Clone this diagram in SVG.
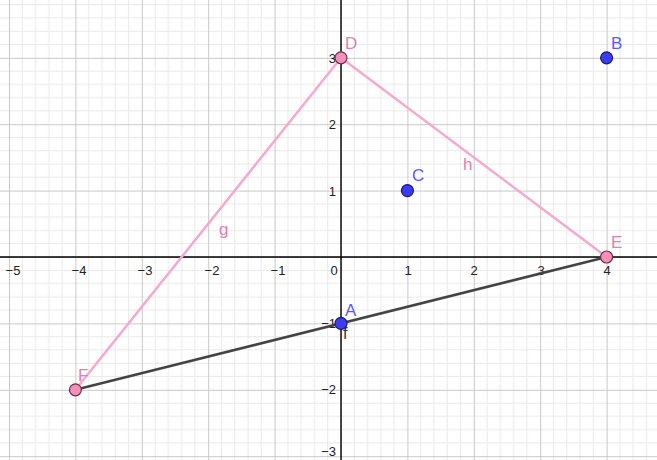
<svg xmlns="http://www.w3.org/2000/svg" width="657" height="460" viewBox="0 0 657 460">
<style>
.tick{font-family:"Liberation Sans",Arial,sans-serif;font-size:13px;fill:#222}
.lblp{font-family:"Liberation Sans",Arial,sans-serif;font-size:17px;fill:#e27fb0}
.lblb{font-family:"Liberation Sans",Arial,sans-serif;font-size:17px;fill:#5a5aff}
.ptp{fill:#f48fba;stroke:#6b3050;stroke-width:1.2}
.ptb{fill:#3c3cf0;stroke:#1a1a70;stroke-width:1.2}
.pink{stroke:#f7a8cc;stroke-width:2.5;fill:none}
.dark{stroke:#444;stroke-width:2.5;fill:none}
</style>
<defs>
<pattern id="grid" patternUnits="userSpaceOnUse" x="341" y="257" width="66.4" height="66.4">
<path d="M13.28 0V66.4M26.56 0V66.4M39.84 0V66.4M53.12 0V66.4M0 13.28H66.4M0 26.56H66.4M0 39.84H66.4M0 53.12H66.4" stroke="#e9e9e9" stroke-width="1" fill="none"/>
<path d="M0.5 0V66.4M0 0.5H66.4" stroke="#c8c8c8" stroke-width="1" fill="none"/>
</pattern>
</defs>
<rect width="657" height="460" fill="#fff"/>
<rect width="657" height="460" fill="url(#grid)"/>
<g id="axes">
<line x1="0" y1="257" x2="657" y2="257" stroke="#000" stroke-width="1.4"/>
<line x1="341" y1="0" x2="341" y2="460" stroke="#000" stroke-width="1.4"/>
<g class="tick" text-anchor="middle">
<text x="13" y="275">−5</text>
<text x="79" y="275">−4</text>
<text x="145" y="275">−3</text>
<text x="212" y="275">−2</text>
<text x="278" y="275">−1</text>
<text x="334" y="275">0</text>
<text x="408" y="275">1</text>
<text x="474" y="275">2</text>
<text x="541" y="275">3</text>
<text x="607" y="275">4</text>
</g>
<g class="tick" text-anchor="end">
<text x="336" y="63">3</text>
<text x="336" y="129">2</text>
<text x="336" y="196">1</text>
<text x="336" y="328">−1</text>
<text x="336" y="394">−2</text>
<text x="336" y="456">−3</text>
</g>
</g>
<g id="connectors">
<line id="g" class="pink" x1="75.4" y1="389.8" x2="341" y2="57.8"/>
<line id="h" class="pink" x1="341" y1="57.8" x2="606.6" y2="257"/>
<line id="f" class="dark" x1="75.4" y1="389.8" x2="606.6" y2="257"/>
<text class="lblp" x="219" y="235">g</text>
<text class="lblp" x="463" y="170">h</text>
<text x="343" y="339" font-family="Liberation Sans,Arial,sans-serif" font-size="16" fill="#333">f</text>
</g>
<g id="A"><circle class="ptb" cx="341" cy="323.4" r="6"/><text class="lblb" x="345" y="316">A</text></g>
<g id="B"><circle class="ptb" cx="606.6" cy="57.8" r="6"/><text class="lblb" x="611" y="49">B</text></g>
<g id="C"><circle class="ptb" cx="407.4" cy="190.6" r="6"/><text class="lblb" x="412" y="181">C</text></g>
<g id="D"><circle class="ptp" cx="341" cy="57.8" r="6"/><text class="lblp" x="345" y="49">D</text></g>
<g id="E"><circle class="ptp" cx="606.6" cy="257" r="6"/><text class="lblp" x="611" y="248">E</text></g>
<g id="F"><circle class="ptp" cx="75.4" cy="389.8" r="6"/><text class="lblp" x="78" y="381">F</text></g>
</svg>
